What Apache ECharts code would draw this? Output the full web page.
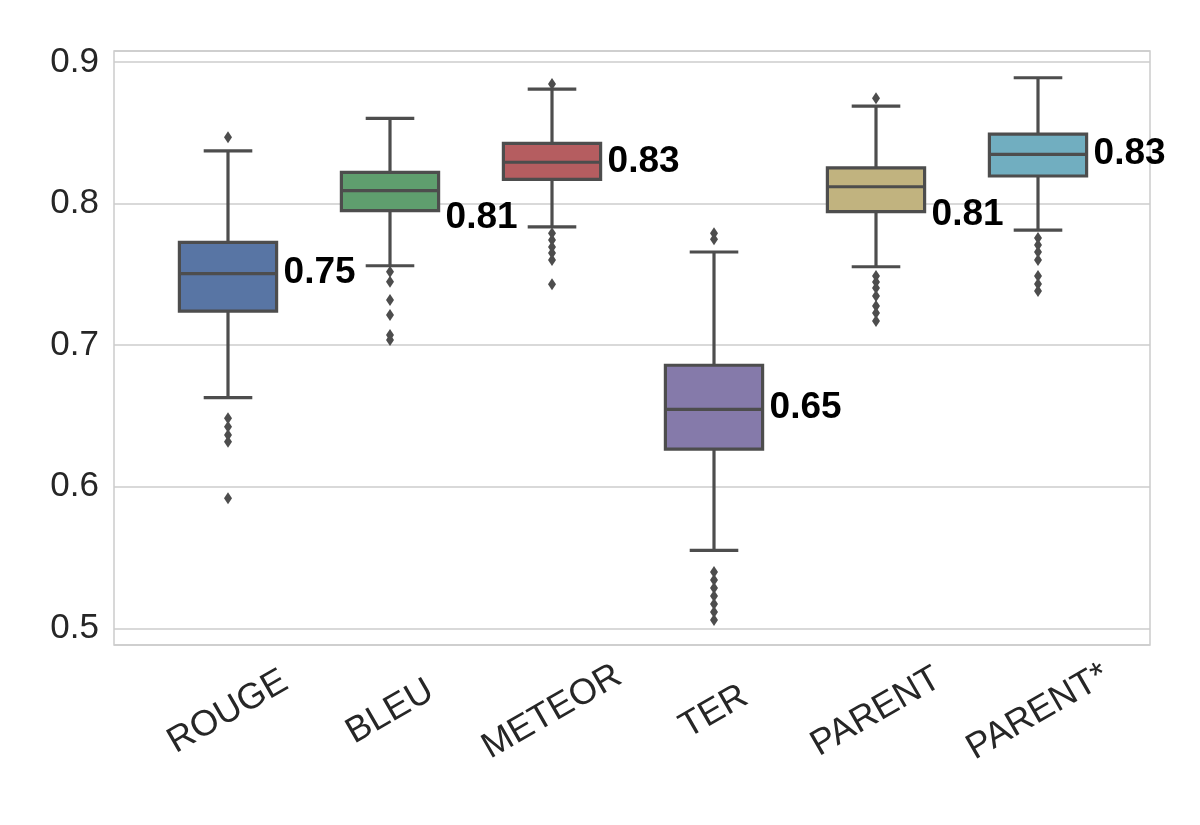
<!DOCTYPE html>
<html>
<head>
<meta charset="utf-8">
<script src="https://cdn.jsdelivr.net/npm/echarts@6/dist/echarts.min.js"></script>
<style>html,body{margin:0;padding:0;background:#fff;}#c{width:1200px;height:825px;}</style>
</head>
<body>
<div id="c"></div>
<script>
// ---- data ----
const categories = ['ROUGE', 'BLEU', 'METEOR', 'TER', 'PARENT', 'PARENT*'];
// [lower whisker, Q1, median, Q3, upper whisker]
const boxStats = [
  [0.6629, 0.7241, 0.7505, 0.7726, 0.8373],
  [0.7561, 0.7950, 0.8091, 0.8221, 0.8602],
  [0.7835, 0.8171, 0.8292, 0.8426, 0.8809],
  [0.5551, 0.6266, 0.6547, 0.6858, 0.7658],
  [0.7554, 0.7943, 0.8119, 0.8253, 0.8689],
  [0.7813, 0.8195, 0.8348, 0.8491, 0.8889]
];
const outliers = [
  [0.8468, 0.6483, 0.6424, 0.6365, 0.6318, 0.5918],
  [0.7519, 0.7448, 0.7319, 0.7213, 0.7072, 0.7036],
  [0.8845, 0.7790, 0.7743, 0.7693, 0.7651, 0.7601, 0.7430],
  [0.7790, 0.7748, 0.5398, 0.5341, 0.5285, 0.5228, 0.5172, 0.5115, 0.5059],
  [0.8744, 0.7488, 0.7446, 0.7403, 0.7347, 0.7276, 0.7227, 0.7170],
  [0.7757, 0.7708, 0.7658, 0.7601, 0.7488, 0.7432, 0.7382]
];
const labelTexts = ['0.75', '0.81', '0.83', '0.65', '0.81', '0.83'];
const labelValues = [0.7526, 0.7914, 0.8310, 0.6569, 0.7937, 0.8366];
const yTicks = [0.5, 0.6, 0.7, 0.8, 0.9];

// ---- styles ----
const colors = ['#5875A4', '#5F9E6E', '#B55D60', '#857AAA', '#C1B37F', '#71AEC0'];
const lineColor = '#4D4D4D';
const FONT = '"Liberation Sans", Arial, sans-serif';
const Y_MIN = 0.4882, Y_MAX = 0.9078;

const boxData = boxStats.map((s, i) => [i].concat(s));
const outlierData = [];
outliers.forEach((arr, i) => arr.forEach(v => outlierData.push([i, v])));
const labelData = labelValues.map((v, i) => [i, v, labelTexts[i]]);

const chart = echarts.init(document.getElementById('c'), null, {renderer: 'canvas'});

function renderBox(params, api) {
  const i = api.value(0);
  const bw = api.size([1, 0])[0] * 0.6;
  const cw = bw * 0.5;
  const pLo = api.coord([i, api.value(1)]);
  const pQ1 = api.coord([i, api.value(2)]);
  const pMed = api.coord([i, api.value(3)]);
  const pQ3 = api.coord([i, api.value(4)]);
  const pHi = api.coord([i, api.value(5)]);
  const x = pMed[0];
  const ls = {stroke: lineColor, lineWidth: 3.2, fill: null};
  return {
    type: 'group',
    children: [
      {type: 'line', shape: {x1: x, y1: pQ3[1], x2: x, y2: pHi[1]}, style: ls},
      {type: 'line', shape: {x1: x, y1: pQ1[1], x2: x, y2: pLo[1]}, style: ls},
      {type: 'line', shape: {x1: x - cw / 2, y1: pHi[1], x2: x + cw / 2, y2: pHi[1]}, style: ls},
      {type: 'line', shape: {x1: x - cw / 2, y1: pLo[1], x2: x + cw / 2, y2: pLo[1]}, style: ls},
      {type: 'rect', shape: {x: x - bw / 2, y: pQ3[1], width: bw, height: pQ1[1] - pQ3[1]},
        style: {fill: colors[i], stroke: lineColor, lineWidth: 3.2}},
      {type: 'line', shape: {x1: x - bw / 2, y1: pMed[1], x2: x + bw / 2, y2: pMed[1]}, style: ls}
    ]
  };
}

function renderLabel(params, api) {
  const i = api.value(0);
  const bw = api.size([1, 0])[0] * 0.6;
  const p = api.coord([i, api.value(1)]);
  return {
    type: 'text',
    x: p[0] + bw / 2 + 7,
    y: p[1] + 2,
    style: {
      text: labelTexts[i],
      fill: '#000',
      font: 'bold 37px ' + FONT,
      textAlign: 'left',
      textVerticalAlign: 'middle'
    }
  };
}

const option = {
  animation: false,
  backgroundColor: '#ffffff',
  grid: [
    {left: 114, right: 50, top: 51, bottom: 180, show: true, borderColor: '#cccccc', borderWidth: 1.5, backgroundColor: '#ffffff'},
    {left: 147, right: 81, top: 51, bottom: 180}
  ],
  xAxis: [
    {gridIndex: 0, type: 'value', min: 0, max: 1, show: false},
    {
      gridIndex: 1, type: 'category', data: categories,
      axisLine: {show: false}, axisTick: {show: false}, splitLine: {show: false},
      axisLabel: {
        rotate: 30, align: 'center', verticalAlign: 'middle', margin: 67,
        fontSize: 36, color: '#262626', fontFamily: FONT, interval: 0
      }
    }
  ],
  yAxis: [
    {
      gridIndex: 0, type: 'value', min: Y_MIN, max: Y_MAX, splitNumber: 4,
      axisLine: {show: false}, axisTick: {show: false},
      splitLine: {show: true, lineStyle: {color: '#cccccc', width: 1.5}},
      axisLabel: {
        fontSize: 35, color: '#262626', fontFamily: FONT, margin: 15,
        showMinLabel: false, showMaxLabel: false,
        formatter: v => (yTicks.some(t => Math.abs(t - v) < 1e-6) ? v.toFixed(1) : '')
      }
    },
    {gridIndex: 1, type: 'value', min: Y_MIN, max: Y_MAX, show: false}
  ],
  series: [
    {
      type: 'custom', xAxisIndex: 1, yAxisIndex: 1, data: boxData,
      renderItem: renderBox, encode: {x: 0, y: [1, 2, 3, 4, 5]}, z: 3
    },
    {
      type: 'scatter', xAxisIndex: 1, yAxisIndex: 1, data: outlierData,
      symbol: 'path://M0,-10 L6,0 L0,10 L-6,0 Z', symbolSize: [8, 12],
      itemStyle: {color: lineColor, opacity: 1}, z: 4
    },
    {
      type: 'custom', xAxisIndex: 1, yAxisIndex: 1, data: labelData,
      renderItem: renderLabel, encode: {x: 0, y: 1}, z: 5
    }
  ]
};
chart.setOption(option);
</script>
</body>
</html>
